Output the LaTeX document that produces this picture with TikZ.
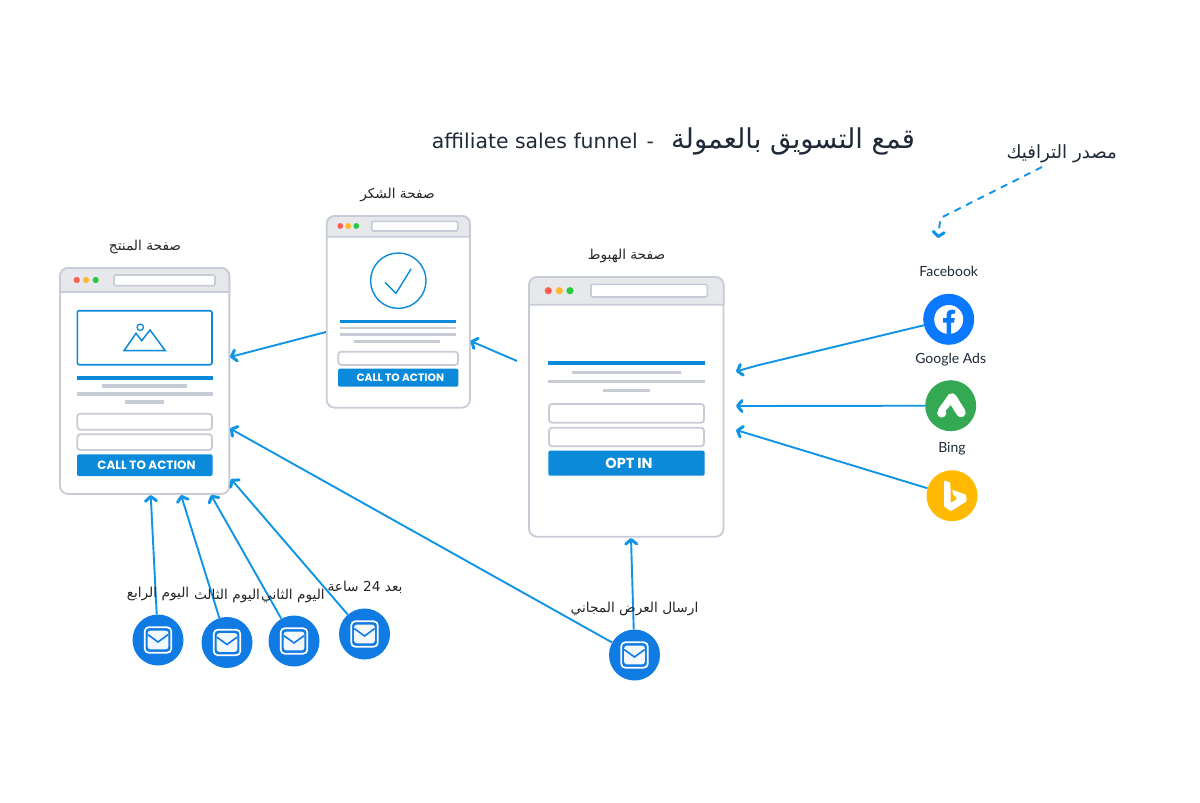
\documentclass[tikz,border=0pt]{standalone}
\usepackage{fontspec}
\usepackage{tikz}
\usetikzlibrary{arrows.meta}
\setmainfont{DejaVu Sans}
\newfontfamily\arabicfont[Script=Arabic]{DejaVu Sans}
\newfontfamily\iconlabelfont{Lato}
\newfontfamily\buttonfont{Poppins}
\TeXXeTstate=1
\newcommand{\artext}[1]{{\arabicfont\beginR #1\endR}}
\definecolor{flowblue}{HTML}{0F94E6}
\definecolor{pageblue}{HTML}{0A8AD8}
\definecolor{pagegray}{HTML}{C8CCD6}
\definecolor{headgray}{HTML}{E6E8EC}
\definecolor{mailblue}{HTML}{0F7BE3}
\definecolor{fbblue}{HTML}{0A78FF}
\definecolor{adsgreen}{HTML}{34A853}
\definecolor{bingamber}{HTML}{FFB900}
\definecolor{titleink}{HTML}{1F2937}
\definecolor{dotred}{HTML}{FF5F52}
\definecolor{dotamber}{HTML}{FFB92E}
\definecolor{dotgreen}{HTML}{2AC840}
\tikzset{
  pagebox/.style={draw=pagegray,fill=white,line width=1.8pt,rounded corners=8pt,inner sep=0pt},
  pagehead/.style={draw=pagegray,fill=headgray,line width=1.8pt},
  addrbar/.style={draw=pagegray,fill=white,line width=1.6pt,rounded corners=1.5pt},
  formfield/.style={draw=pagegray,fill=white,line width=1.8pt,rounded corners=3pt},
  blueline/.style={fill=pageblue},
  grayline/.style={fill=pagegray},
  ctabutton/.style={fill=pageblue,rounded corners=2pt},
  ctatext/.style={text=white,inner sep=0pt,font=\buttonfont\bfseries},
  flow/.style={draw=flowblue,line width=1.9pt,-{Straight Barb[length=4.5pt,width=11pt,line width=3pt,round]}},
  iconcircle/.style={circle,minimum size=51pt,inner sep=0pt},
  pagelabel/.style={inner sep=0pt,text=black!85,font=\fontsize{13.7}{16}\selectfont},
  iconlabel/.style={inner sep=0pt,text=titleink,font=\iconlabelfont\fontsize{14}{16}\selectfont},
  mailicon/.pic={
    \draw[white,line width=1.7pt,rounded corners=4pt] (-13.3,-12.7) rectangle (13.3,12.7);
    \fill[white!95!mailblue,rounded corners=2.5pt] (-10.3,-9.3) rectangle (10.3,9.3);
    \draw[mailblue,line width=1.6pt] (-10.3,-5.5) -- (0,2) -- (10.3,-5.5);
  }
}
\begin{document}
\begin{tikzpicture}[x=1pt,y=-1pt]
  \useasboundingbox (0,0) rectangle (1200,803);
  % landing page
  \node[pagebox,minimum width=194.5pt,minimum height=259.5pt] (landing) at (626.3,407) {};
  \draw[pagehead] (529,304.7) [rounded corners=8pt] -- (529,277) -- (723.7,277) [sharp corners] -- (723.7,304.7) -- cycle;
  \fill[dotred] (548.3,290.7) circle (3.6);
  \fill[dotamber] (559.3,290.7) circle (3.6);
  \fill[dotgreen] (570,290.7) circle (3.6);
  \draw[addrbar] (591,284.3) rectangle (707.3,297);
  \fill[blueline] (548.3,361.3) rectangle (704.7,365.3);
  \fill[grayline] (572,370.5) rectangle (681,374.1);
  \fill[grayline] (548.3,379.5) rectangle (704.7,383.1);
  \fill[grayline] (603,388.5) rectangle (650,392.1);
  \draw[formfield] (549,404) rectangle (704,422.7);
  \draw[formfield] (549,427.7) rectangle (704,446.3);
  \fill[ctabutton] (548.3,450.7) rectangle (704.7,475.7);
  \node[ctatext,font=\buttonfont\bfseries\fontsize{14.5}{16}\selectfont] (optin) at (629,463) {OPT IN};
  % thank you page
  \node[pagebox,minimum width=143.3pt,minimum height=191.7pt] (thanks) at (398.3,311.8) {};
  \draw[pagehead] (326.7,236.7) [rounded corners=8pt] -- (326.7,216) -- (470,216) [sharp corners] -- (470,236.7) -- cycle;
  \fill[dotred] (340.3,226) circle (2.9);
  \fill[dotamber] (348.3,226) circle (2.9);
  \fill[dotgreen] (356.3,226) circle (2.9);
  \draw[addrbar] (371.7,221.3) rectangle (457.7,231);
  \draw[pageblue,line width=1.4pt] (398.3,280.7) circle (27.7);
  \draw[pageblue,line width=1.4pt] (385,282.3) -- (396,293.3) -- (411,269);
  \fill[blueline] (340.3,319.5) rectangle (456,322.5);
  \fill[grayline] (340.3,326.6) rectangle (456,329.4);
  \fill[grayline] (340.3,333.3) rectangle (456,336.1);
  \fill[grayline] (353.7,339.9) rectangle (440,342.7);
  \draw[formfield] (338.3,351.7) rectangle (458,365);
  \fill[ctabutton] (338,368.7) rectangle (458.3,386.7);
  \node[ctatext,font=\buttonfont\bfseries\fontsize{10.7}{14}\selectfont] (ctathanks) at (400.3,378) {CALL TO ACTION};
  % product page
  \node[pagebox,minimum width=169.3pt,minimum height=226pt] (product) at (144.7,381) {};
  \draw[pagehead] (60,292) [rounded corners=8pt] -- (60,268) -- (229.3,268) [sharp corners] -- (229.3,292) -- cycle;
  \fill[dotred] (76.7,280) circle (3.1);
  \fill[dotamber] (86,280) circle (3.1);
  \fill[dotgreen] (95.7,280) circle (3.1);
  \draw[addrbar] (114,275) rectangle (215,285.7);
  \draw[pageblue,line width=1.6pt,rounded corners=2pt] (77.3,310.7) rectangle (212,364.7);
  \draw[pageblue,line width=1.5pt] (124,350.7) -- (136,333.3) -- (141.7,340.7) -- (150,330) -- (165.3,350.7) -- cycle;
  \draw[pageblue,line width=1.3pt] (140.3,327.3) circle (3.2);
  \fill[blueline] (77,376.3) rectangle (212.6,379.7);
  \fill[grayline] (102,384.3) rectangle (187,387.7);
  \fill[grayline] (77,392.3) rectangle (212.6,395.7);
  \fill[grayline] (125.3,400.3) rectangle (164,403.7);
  \draw[formfield] (77.3,413.7) rectangle (212,429.7);
  \draw[formfield] (77.3,434.3) rectangle (212,450);
  \fill[ctabutton] (77,454.3) rectangle (212.6,476);
  \node[ctatext,font=\buttonfont\bfseries\fontsize{12}{14}\selectfont] (ctaproduct) at (146.5,465.3) {CALL TO ACTION};
  % traffic icons
  \node[iconcircle,fill=fbblue] (facebook) at (948.7,319.3) {};
  \fill[white] (948.7,319.5) circle (14.5);
  \fill[fbblue] (946.6,333.9) -- (946.6,322.5) -- (943,322.5) -- (943,318) -- (946.6,318) -- (946.6,315) .. controls (946.6,311) and (949,309.5) .. (952,309.5) -- (955,310) -- (955,313.6) -- (953,313.6) .. controls (951.5,313.6) and (951,314.5) .. (951,315.5) -- (951,318) -- (954.8,318) -- (954,322.5) -- (951,322.5) -- (951,333.9) -- cycle;
  \node[iconcircle,fill=adsgreen] (googleads) at (950.7,405.7) {};
  \draw[white,line width=9.5pt,line cap=round] (952,398) -- (961,412.5);
  \fill[white] (949,394) -- (938,409.5) -- (946,410.5) -- (953,402) -- cycle;
  \fill[white] (941.7,413) circle (4.6);
  \node[iconcircle,fill=bingamber] (bing) at (952,495.7) {};
  \fill[white,rounded corners=1pt] (944,480.3) -- (950.4,482.6) -- (950.7,503) -- (957.3,498.7) -- (953.3,494.7) -- (952,489.7) -- (966,494.7) -- (966.7,501.3) -- (950.7,511.3) -- (944,506.3) -- cycle;
  % mail icons
  \node[iconcircle,fill=mailblue] (fourthday) at (158,640) {};
  \pic at (158,640) {mailicon};
  \node[iconcircle,fill=mailblue] (thirdday) at (227,642.5) {};
  \pic at (227,642.5) {mailicon};
  \node[iconcircle,fill=mailblue] (secondday) at (294,641) {};
  \pic at (294,641) {mailicon};
  \node[iconcircle,fill=mailblue] (firstday) at (364.5,634) {};
  \pic at (364.5,634) {mailicon};
  \node[iconcircle,fill=mailblue] (freeoffer) at (634.5,655) {};
  \pic at (634.5,655) {mailicon};
  % arrow ends
  \coordinate (fbbend) at (757,365.5);
  \coordinate (fbtip) at (736,371.5);
  \coordinate (adstip) at (736,406);
  \coordinate (bingtip) at (736,430);
  \coordinate (landingout) at (517,361);
  \coordinate (thankstip) at (470.5,341);
  \coordinate (thanksout) at (326,332);
  \coordinate (producttip) at (230,357);
  \coordinate (offertip) at (631,538);
  \coordinate (offerproduct) at (230,428.5);
  \coordinate (fourthtip) at (150.7,495);
  \coordinate (thirdtip) at (181,495);
  \coordinate (secondtip) at (211,495);
  \coordinate (firsttip) at (231,479);
  \coordinate (trafficout) at (1042,167);
  \coordinate (trafficbend) at (940.5,218);
  \coordinate (traffictip) at (938,238);
  % arrows
  \draw[flow] (facebook) -- (fbbend) -- (fbtip);
  \draw[flow] (googleads) -- (adstip);
  \draw[flow] (bing) -- (bingtip);
  \draw[flow] (landingout) -- (thankstip);
  \draw[flow] (thanksout) -- (producttip);
  \draw[flow] (freeoffer) -- (offertip);
  \draw[flow] (freeoffer) -- (offerproduct);
  \draw[flow] (fourthday) -- (fourthtip);
  \draw[flow] (thirdday) -- (thirdtip);
  \draw[flow] (secondday) -- (secondtip);
  \draw[flow] (firstday) -- (firsttip);
  \draw[flow,dash pattern=on 7pt off 6pt] (trafficout) -- (trafficbend) -- (traffictip);
  % labels
  \node[inner sep=0pt,text=titleink] (title) at (673.5,141) {\fontsize{20.4}{26}\selectfont affiliate sales funnel\hspace{9pt}-\hspace{17pt}{\fontsize{27.3}{30}\selectfont\artext{قمع التسويق بالعمولة}}};
  \node[inner sep=0pt,text=titleink,font=\fontsize{18.2}{20}\selectfont] (traffic) at (1061.7,154) {\artext{مصدر الترافيك}};
  \node[pagelabel] (productlabel) at (145,247) {\artext{صفحة المنتج}};
  \node[pagelabel] (thankslabel) at (397.5,195) {\artext{صفحة الشكر}};
  \node[pagelabel] (landinglabel) at (626.5,256) {\artext{صفحة الهبوط}};
  \node[iconlabel] (fblabel) at (948.7,271.3) {Facebook};
  \node[iconlabel] (adslabel) at (950.7,359.5) {Google Ads};
  \node[iconlabel] (binglabel) at (952,449) {Bing};
  \node[pagelabel] (fourthlabel) at (158,594) {\artext{اليوم الرابع}};
  \node[pagelabel] (thirdlabel) at (227,596) {\artext{اليوم الثالث}};
  \node[pagelabel] (secondlabel) at (293,596) {\artext{اليوم الثاني}};
  \node[pagelabel] (firstlabel) at (365,587.5) {\artext{بعد \beginL 24\endL{} ساعة}};
  \node[pagelabel] (offerlabel) at (634.5,609) {\artext{ارسال العرض المجاني}};
\end{tikzpicture}
\end{document}
